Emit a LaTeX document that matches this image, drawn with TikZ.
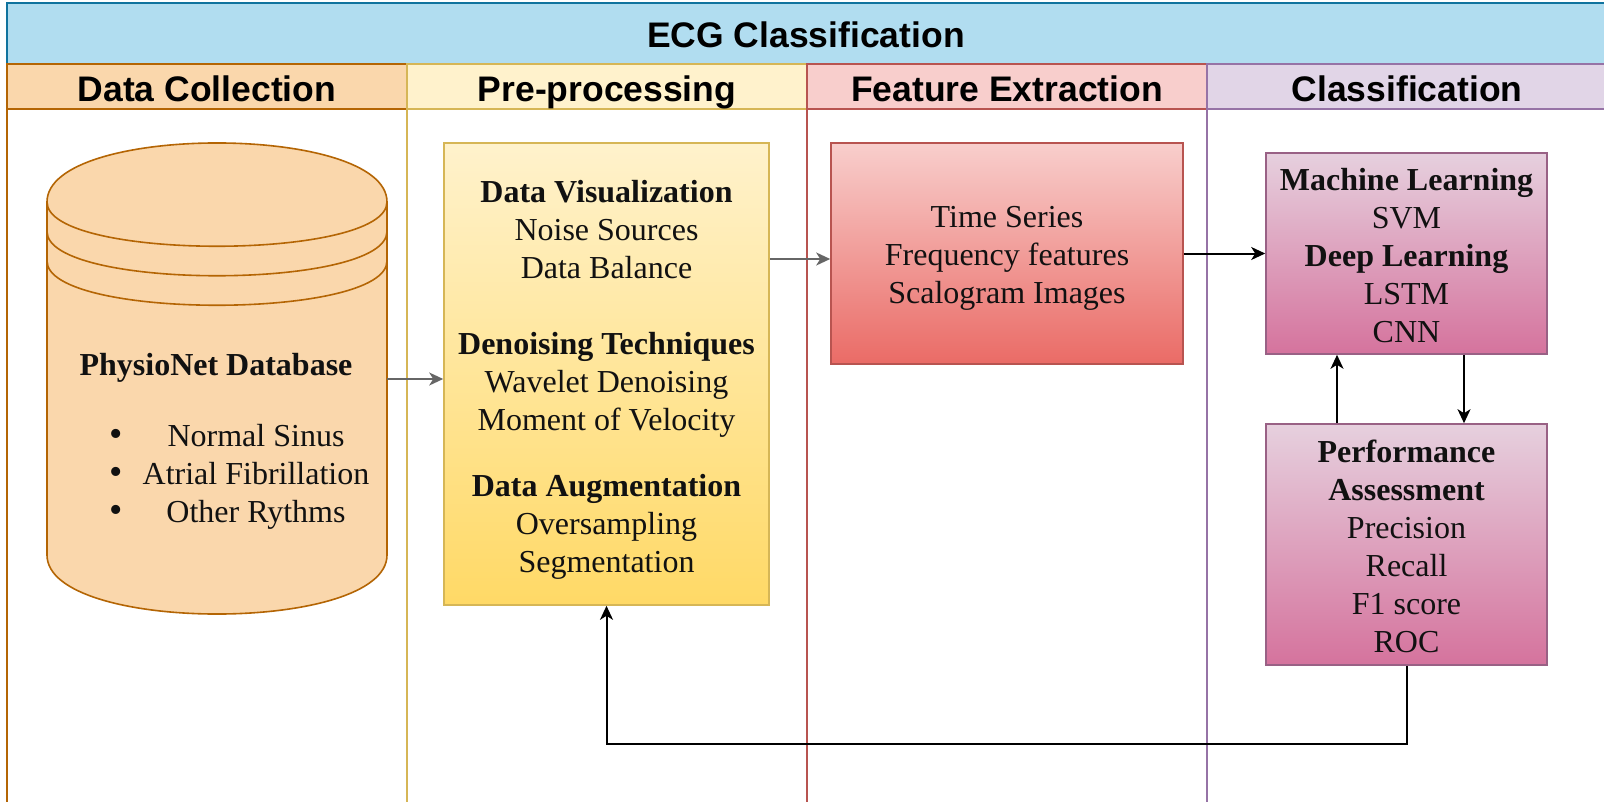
\documentclass[tikz,border=0pt]{standalone}
\usepackage{fontspec}
\IfFontExistsTF{LiberationSerif-Regular.ttf}
  {\setmainfont{LiberationSerif}[Extension=.ttf, UprightFont=*-Regular, BoldFont=*-Bold]}
  {\setmainfont{Liberation Serif}}
\setsansfont{Liberation Sans}
\usetikzlibrary{arrows.meta}
\definecolor{titlefill}{HTML}{B1DDF0}
\definecolor{titleline}{HTML}{10739E}
\definecolor{dcfill}{HTML}{FAD7AC}
\definecolor{dcline}{HTML}{B46504}
\definecolor{ppfill}{HTML}{FFF2CC}
\definecolor{ppline}{HTML}{D6B656}
\definecolor{ppdark}{HTML}{FFD966}
\definecolor{fefill}{HTML}{F8CECC}
\definecolor{feline}{HTML}{B85450}
\definecolor{fedark}{HTML}{EA6B66}
\definecolor{clfill}{HTML}{E1D5E7}
\definecolor{clline}{HTML}{9673A6}
\definecolor{mltop}{HTML}{E6D0DE}
\definecolor{mlbot}{HTML}{D5739D}
\definecolor{mlline}{HTML}{996185}
\definecolor{txt}{HTML}{111111}
\tikzset{
  hdr/.style={font=\sffamily\bfseries\fontsize{17.75}{20}\selectfont, text=black, anchor=base, inner sep=0pt},
  body/.style={font=\rmfamily\mdseries\fontsize{16}{19}\selectfont, text=txt, align=center, inner sep=0pt},
  lane/.style={line width=0.8pt},
  stepbox/.style={rectangle, line width=0.8pt, inner sep=0pt, body},
  arr/.style={line width=1pt, -{Stealth[length=7pt, width=6.5pt, inset=2pt]}},
  garr/.style={arr, draw=black!60},
}
\begin{document}
\begin{tikzpicture}[x=0.5pt, y=-0.5pt]
\useasboundingbox (0,0) rectangle (1604,802);
\clip (0,0) rectangle (1604,802);
\fill[white] (0,0) rectangle (1604,802);
% title band
\draw[lane, draw=titleline, fill=titlefill] (7,3) rectangle (1620,64);
\node[hdr] (title) at (806,48) {ECG Classification};
% lanes
\draw[lane, draw=dcline] (7,64) rectangle (407,820);
\draw[lane, draw=dcline, fill=dcfill] (7,64) rectangle (407,109);
\draw[lane, draw=ppline] (407,64) rectangle (807,820);
\draw[lane, draw=ppline, fill=ppfill] (407,64) rectangle (807,109);
\draw[lane, draw=feline] (807,64) rectangle (1207,820);
\draw[lane, draw=feline, fill=fefill] (807,64) rectangle (1207,109);
\draw[lane, draw=clline] (1207,64) rectangle (1620,820);
\draw[lane, draw=clline, fill=clfill] (1207,64) rectangle (1620,109);
\node[hdr] (h1) at (207,102) {Data Collection};
\node[hdr] (h2) at (607,102) {Pre-processing};
\node[hdr] (h3) at (1007,102) {Feature Extraction};
\node[hdr] (h4) at (1407,102) {Classification};
% database cylinder
\node[rectangle, minimum width=170pt, minimum height=235.5pt, inner sep=0pt] (db) at (217,378.5) {};
\draw[line width=0.8pt, draw=dcline, fill=dcfill]
  (47,202) .. controls (47,123.3) and (387,123.3) .. (387,202)
  -- (387,555) .. controls (387,633.7) and (47,633.7) .. (47,555) -- cycle;
\draw[line width=0.8pt, draw=dcline]
  (47,202) .. controls (47,261) and (387,261) .. (387,202)
  (47,231.5) .. controls (47,290.5) and (387,290.5) .. (387,231.5)
  (47,261) .. controls (47,320) and (387,320) .. (387,261);
\node[body, font=\rmfamily\bfseries\fontsize{16}{19}\selectfont, anchor=base] (dbt) at (216,375) {PhysioNet Database};
\node[body, font=\rmfamily\fontsize{19}{19}\selectfont, anchor=base] (b1) at (116,446) {•};
\node[body, font=\rmfamily\fontsize{19}{19}\selectfont, anchor=base] (b2) at (116,484) {•};
\node[body, font=\rmfamily\fontsize{19}{19}\selectfont, anchor=base] (b3) at (116,522) {•};
\node[body, anchor=base] (t1) at (256,446) {Normal Sinus};
\node[body, anchor=base] (t2) at (256,484) {Atrial Fibrillation};
\node[body, anchor=base] (t3) at (256,522) {Other Rythms};
% pre-processing box
\node[stepbox, draw=ppline, top color=ppfill, bottom color=ppdark,
      minimum width=162.5pt, minimum height=231pt] (pre) at (606.5,374) {};
\node[body, anchor=center] (pretext) at (606.5,380)
  {\textbf{Data Visualization}\\ Noise Sources\\ Data Balance\\[19pt]
   \textbf{Denoising Techniques}\\ Wavelet Denoising\\ Moment of Velocity\\[14pt]
   \textbf{Data Augmentation}\\ Oversampling\\ Segmentation};
% feature box
\node[stepbox, draw=feline, top color=fefill, bottom color=fedark,
      minimum width=176pt, minimum height=110.5pt] (feat) at (1007,253.5) {};
\node[body] (feattext) at (1007,258) {Time Series\\ Frequency features\\ Scalogram Images};
% classification boxes
\node[stepbox, draw=mlline, top color=mltop, bottom color=mlbot,
      minimum width=140.5pt, minimum height=100.5pt] (ml) at (1406.5,253.5) {};
\node[body] (mltext) at (1406.5,255.5)
  {\textbf{Machine Learning}\\ SVM\\ \textbf{Deep Learning}\\ LSTM\\ CNN};
\node[stepbox, draw=mlline, top color=mltop, bottom color=mlbot,
      minimum width=140.5pt, minimum height=120.5pt] (perf) at (1406.5,544.5) {};
\node[body] (perftext) at (1406.5,546.5)
  {\textbf{Performance}\\ \textbf{Assessment}\\ Precision\\ Recall\\ F1 score\\ ROC};
% connectors
\coordinate (y1) at (0,379);
\coordinate (y2) at (0,259);
\coordinate (xu) at (1337,0);
\coordinate (xd) at (1464,0);
\coordinate (fb) at (0,744);
\draw[garr] (db.east |- y1) -- (pre.west |- y1);
\draw[garr] (pre.east |- y2) -- (feat.west |- y2);
\draw[arr] (feat.east) -- (ml.west);
\draw[arr] (perf.north -| xu) -- (ml.south -| xu);
\draw[arr] (ml.south -| xd) -- (perf.north -| xd);
\draw[arr] (perf.south) |- (fb -| pre.south) -- (pre.south);
\end{tikzpicture}
\end{document}
